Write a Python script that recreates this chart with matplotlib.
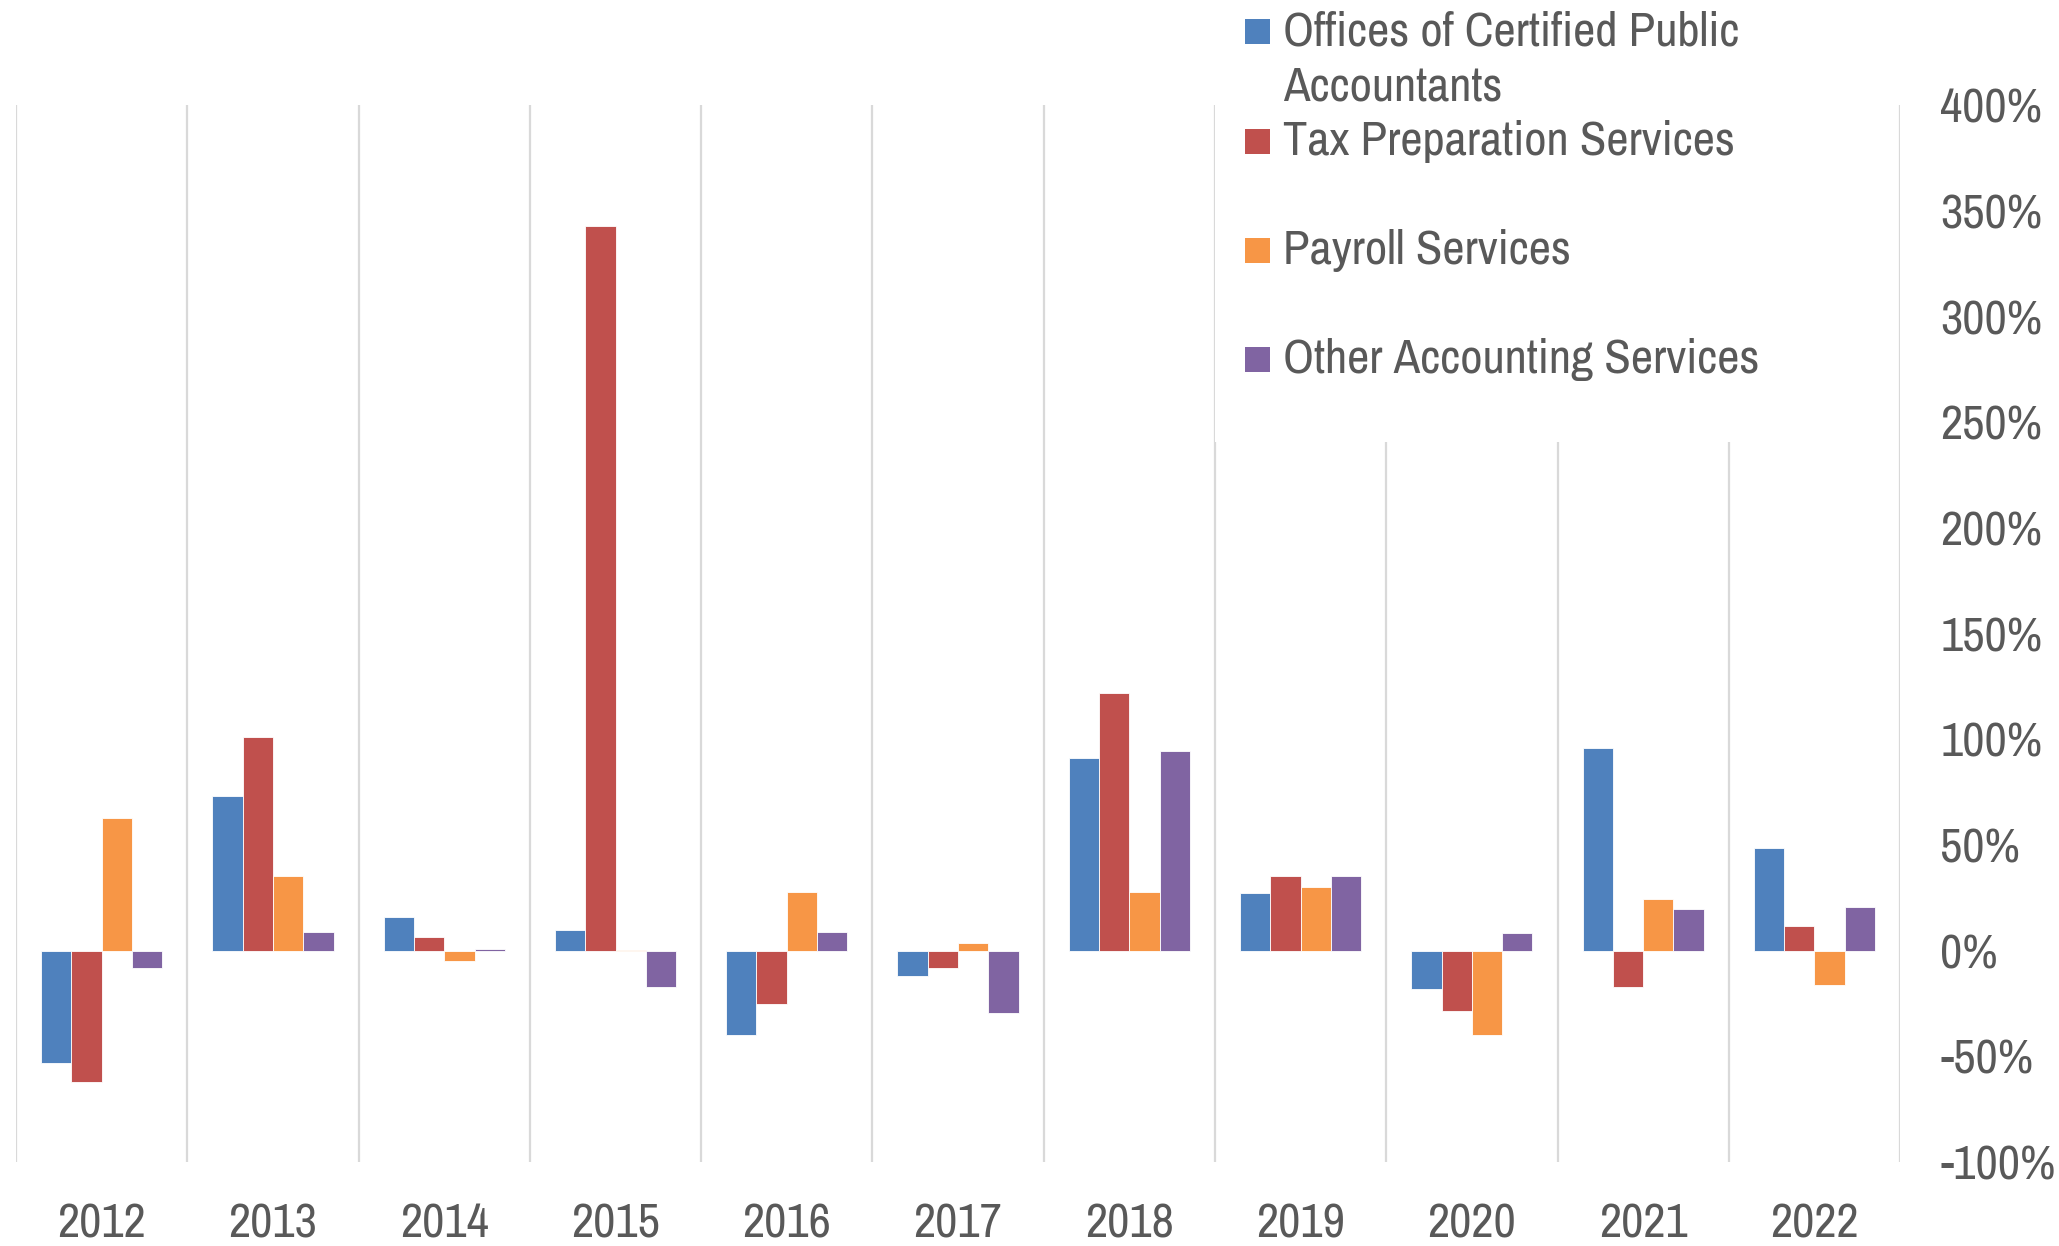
import matplotlib.pyplot as plt
import matplotlib.patches as mpatches
from matplotlib.ticker import FuncFormatter
import numpy as np

years = ["2012", "2013", "2014", "2015", "2016", "2017", "2018", "2019", "2020", "2021", "2022"]
series = ["Offices of Certified Public\nAccountants", "Tax Preparation Services",
          "Payroll Services", "Other Accounting Services"]
# growth, fraction (1.0 = 100%)
cpa = [-0.53, 0.73, 0.16, 0.10, -0.40, -0.12, 0.91, 0.275, -0.18, 0.96, 0.485]
tax = [-0.62, 1.01, 0.066, 3.43, -0.25, -0.08, 1.22, 0.355, -0.285, -0.17, 0.118]
payroll = [0.63, 0.354, -0.048, 0.003, 0.278, 0.036, 0.28, 0.302, -0.40, 0.244, -0.162]
other = [-0.084, 0.087, 0.007, -0.17, 0.09, -0.294, 0.943, 0.355, 0.084, 0.196, 0.206]
colors = ["#4F81BD", "#C0504D", "#F79646", "#8064A2"]

plt.rcParams['font.family'] = ['Archivo Narrow', 'Liberation Sans', 'DejaVu Sans']
txt = "#595959"
fs = 35

fig = plt.figure(figsize=(20.59, 12.46), dpi=100)
ax = fig.add_axes([0.0078, 0.0674, 0.915, 0.848])

x = np.arange(len(years))
w = 0.177
for k, vals in enumerate([cpa, tax, payroll, other]):
    ax.bar(x + (k - 1.5) * w, vals, w, color=colors[k], edgecolor="white", linewidth=0.6, zorder=3)

ax.vlines(np.arange(len(years) + 1) - 0.5, -1, 4, color="#D9D9D9", linewidth=1.6, zorder=1)

ax.set_xlim(-0.5, len(years) - 0.5)
ax.set_ylim(-1, 4)
ax.set_xticks(x)
ax.set_xticklabels(years)
ax.set_yticks(np.arange(-1, 4.01, 0.5))
ax.yaxis.set_major_formatter(FuncFormatter(lambda v, p: "{:.0f}%".format(v * 100)))
ax.yaxis.tick_right()
ax.tick_params(axis="y", length=0, pad=29, labelsize=fs, labelcolor=txt)
ax.tick_params(axis="x", length=0, pad=29, labelsize=fs, labelcolor=txt)
for s in ax.spines.values():
    s.set_visible(False)

# legend area (white background over the gridlines, like Excel)
fig.patches.append(mpatches.Rectangle((0.59, 0.645), 0.325, 0.355, transform=fig.transFigure,
                                      facecolor="white", edgecolor="none", zorder=2))
ys = [1 - 31.5 / 1246, 1 - 141.8 / 1246, 1 - 250.8 / 1246, 1 - 359.8 / 1246]
line_gap = 55.2 / 1246
sq_w = 25 / 2059
sq_h = 25 / 1246
for k in range(4):
    fig.patches.append(mpatches.Rectangle((1245 / 2059, ys[k] - sq_h / 2), sq_w, sq_h,
                                          transform=fig.transFigure, facecolor=colors[k],
                                          edgecolor="none", zorder=3))
    for j, line in enumerate(series[k].split("\n")):
        fig.text(1283 / 2059, ys[k] - j * line_gap, line, fontsize=fs, color=txt,
                 va="center", zorder=4)

fig.savefig("out.png", dpi=100)
